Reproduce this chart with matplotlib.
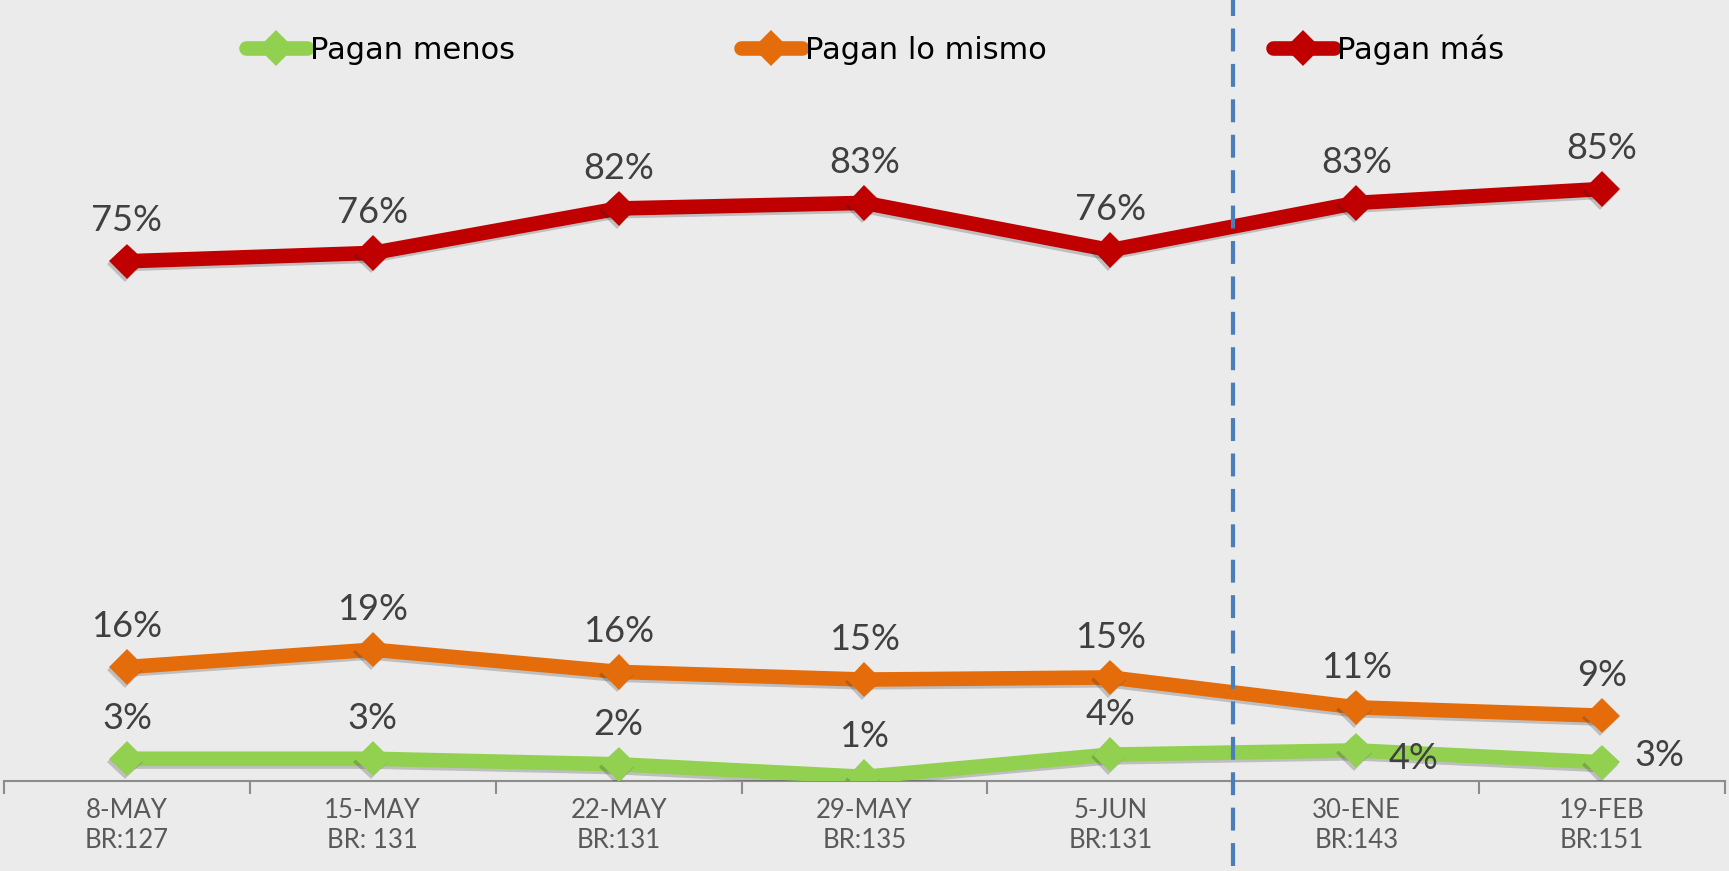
import matplotlib
matplotlib.use('Agg')
import matplotlib.pyplot as plt
import matplotlib.patheffects as pe

fechas = ['8-MAY\nBR:127', '15-MAY\nBR: 131', '22-MAY\nBR:131', '29-MAY\nBR:135',
          '5-JUN\nBR:131', '30-ENE\nBR:143', '19-FEB\nBR:151']
pagan_menos = [3.2, 3.2, 2.4, 0.6, 3.8, 4.4, 2.7]
pagan_mismo = [16.4, 18.9, 15.7, 14.6, 14.9, 10.6, 9.4]
pagan_mas = [74.8, 76.0, 82.4, 83.2, 76.4, 83.2, 85.2]

plt.rcParams['font.family'] = ['Lato', 'DejaVu Sans']

bg = '#EBEBEB'
fig = plt.figure(figsize=(17.29, 8.71), dpi=100, facecolor=bg)
ax = fig.add_axes([4 / 1729, 90 / 871, 1721 / 1729, 781 / 871])
ax.set_facecolor(bg)

x = list(range(len(fechas)))
series = [
    ('Pagan menos', pagan_menos, '#92D050'),
    ('Pagan lo mismo', pagan_mismo, '#E46C0A'),
    ('Pagan más', pagan_mas, '#C00000'),
]
shadow = [pe.SimpleLineShadow(offset=(-1.5, -2), alpha=0.22, shadow_color='#202020'),
          pe.Normal()]

for name, vals, col in series:
    ax.plot(x, vals, color=col, lw=10.5, marker='D', ms=15, mew=3, mec=col,
            solid_joinstyle='round', solid_capstyle='round', label=name,
            path_effects=shadow, zorder=3)

# etiquetas de datos
for name, vals, col in series:
    for i, v in enumerate(vals):
        off = (0, 29)
        if name == 'Pagan menos' and i == 5:
            off = (41, -6)
        elif name == 'Pagan menos' and i == 6:
            off = (41, 5)
        ax.annotate(f'{round(v)}%', (i, v), xytext=off, textcoords='offset points',
                    ha='center', va='center', fontsize=26, color='#404040', zorder=5)

ax.axvline(4.5, ymin=-0.109, ymax=1.0, color='#4A7EBB', lw=3, ls=(0, (5.5, 3)),
           clip_on=False, zorder=6)

ax.set_xlim(-0.5, 6.5)
ax.set_ylim(0, 112.4)
ax.set_yticks([])
ax.set_xticks(x)
ax.set_xticklabels(fechas, fontsize=18.5, color='#595959', linespacing=1.25)
ax.set_xticks([i - 0.5 for i in range(len(fechas) + 1)], minor=True)
ax.tick_params(axis='x', which='major', length=0, pad=12)
ax.tick_params(axis='x', which='minor', length=9, width=1.5, color='#8C8C8C')
for s in ['top', 'left', 'right']:
    ax.spines[s].set_visible(False)
ax.spines['bottom'].set_color('#8C8C8C')
ax.spines['bottom'].set_linewidth(1.5)

leg = fig.legend(loc='center', bbox_to_anchor=(0.506, 0.943), ncol=3, frameon=False,
                 prop={'family': 'DejaVu Sans', 'size': 22}, handlelength=2.0,
                 handletextpad=0.1, columnspacing=7.4, labelcolor='black')
for h in leg.legend_handles:
    h.set_path_effects([])

fig.savefig('out.png', dpi=100, facecolor=bg)
